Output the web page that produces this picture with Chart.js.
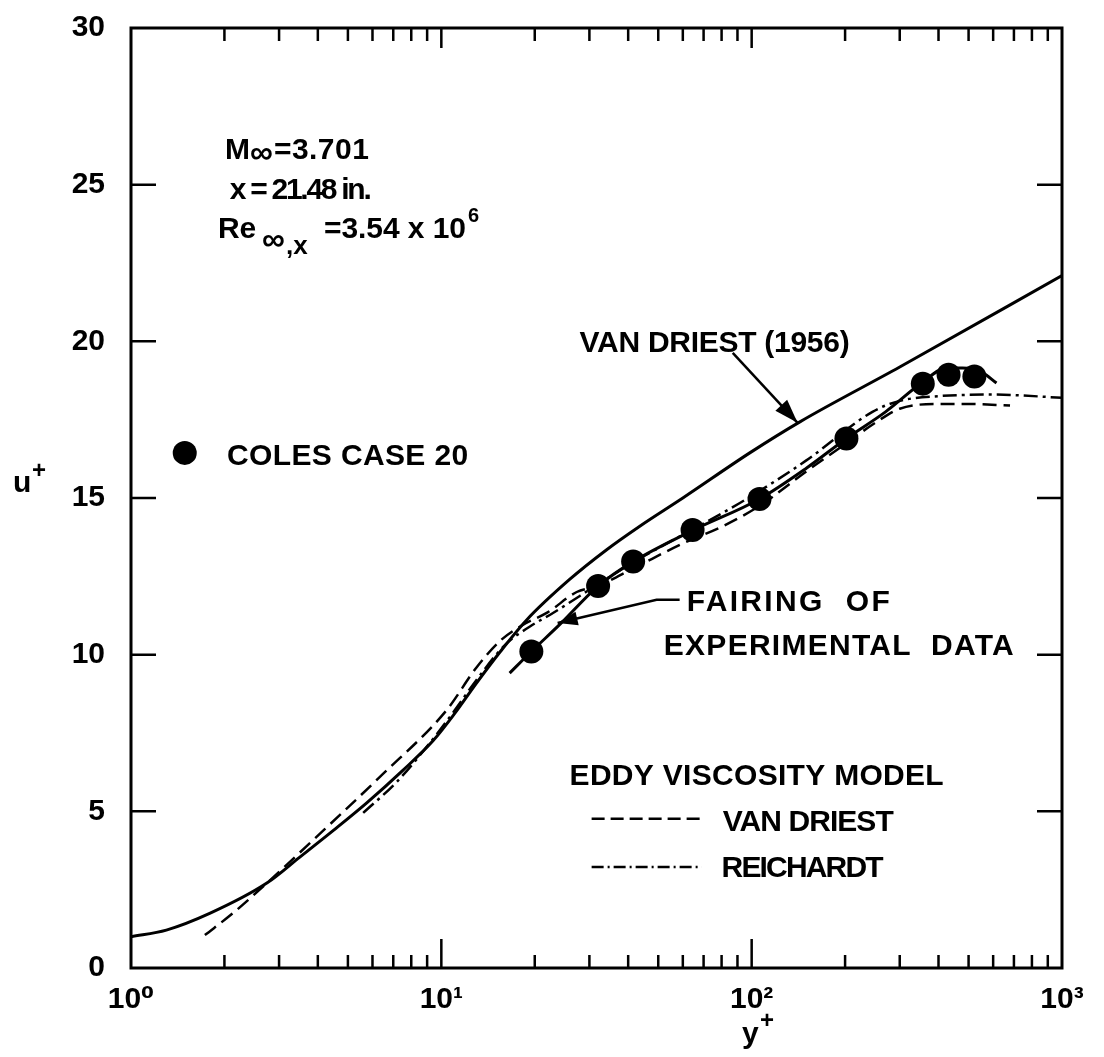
<!DOCTYPE html>
<html>
<head>
<meta charset="utf-8">
<script src="https://cdn.jsdelivr.net/npm/chart.js@4.4.1/dist/chart.umd.min.js"></script>
<style>
  html, body { margin: 0; padding: 0; background: #fff; }
  #wrap { width: 1104px; height: 1057px; }
</style>
</head>
<body>
<div id="wrap"><canvas id="chart" width="1104" height="1057"></canvas></div>
<script>
// u+ vs y+ : Coles case 20 with eddy viscosity model curves

// Coles case 20 data points
const colesY = [19.5, 32.0, 41.5, 64.5, 106, 202, 356, 431, 522];
const colesU = [10.1, 12.19, 12.97, 13.98, 14.97, 16.9, 18.65, 18.93, 18.88];

// fairing of experimental data
const fairY = [16.6, 19.5, 24, 32, 41.5, 65, 106, 150, 202, 270, 356, 425, 478, 554, 615];
const fairU = [9.41, 10.1, 10.95, 12.19, 12.97, 13.98, 14.97, 15.95, 16.9, 17.75, 18.7, 19.15, 19.15, 19.0, 18.67];

// Van Driest (1956)
const vd56Y = [1, 1.3, 1.8, 2.74, 3.5, 4.5, 5.75, 7.5, 9.4, 11, 13, 15.5, 18.8, 25.9, 34.1, 43.6, 60, 98.6, 143, 300, 1000];
const vd56U = [1.0, 1.21, 1.75, 2.71, 3.54, 4.4, 5.27, 6.3, 7.25, 8.1, 9.1, 10.1, 11.1, 12.4, 13.35, 14.1, 15.0, 16.44, 17.43, 19.18, 22.1];

// eddy viscosity model, Van Driest (dashed)
const vdY = [1.73, 2.13, 2.74, 3.86, 6.34, 10.4, 13, 15.5, 18.3, 22, 27.3, 32, 41.5, 60, 80.7, 106, 150, 202, 250, 300, 400, 500, 680];
const vdU = [1.05, 1.75, 2.71, 4.08, 6.1, 8.23, 9.6, 10.45, 10.95, 11.35, 12.0, 12.2, 12.75, 13.55, 14.1, 14.75, 15.85, 16.75, 17.4, 17.85, 18.0, 18.0, 17.95];

// eddy viscosity model, Reichardt (dash-dot)
const reY = [5.6, 7.2, 9.18, 11, 13, 16, 19.3, 22.9, 32, 41.5, 50, 91.6, 150, 245, 300, 400, 600, 1000];
const reU = [4.95, 5.95, 7.18, 8.2, 9.2, 10.3, 10.9, 11.33, 12.25, 12.95, 13.4, 14.84, 16.2, 17.75, 18.1, 18.25, 18.3, 18.2];

// axis ticks
const xTicks = [1, 10, 100, 1000];
const xTickLabels = ['10\u2070', '10\u00b9', '10\u00b2', '10\u00b3'];
const yTicks = [0, 5, 10, 15, 20, 25, 30];

const FONT = '"Liberation Sans", Arial, "DejaVu Sans", sans-serif';

function pts(xs, ys) {
    return xs.map((x, i) => ({ x: x, y: ys[i] }));
}

function txt(ctx, str, x, y, size, width) {
    ctx.font = 'bold ' + size + 'px ' + FONT;
    ctx.letterSpacing = '0px';
    if (width) {
        const w = ctx.measureText(str).width;
        ctx.letterSpacing = ((width - w) / Math.max(str.length - 1, 1)).toFixed(2) + 'px';
    }
    ctx.fillText(str, x, y);
    const out = ctx.measureText(str).width;
    ctx.letterSpacing = '0px';
    return out;
}

function arrow(ctx, x1, y1, x2, y2, len, half) {
    const ang = Math.atan2(y2 - y1, x2 - x1);
    ctx.beginPath();
    ctx.moveTo(x2, y2);
    ctx.lineTo(x2 - len * Math.cos(ang) + half * Math.sin(ang), y2 - len * Math.sin(ang) - half * Math.cos(ang));
    ctx.lineTo(x2 - len * Math.cos(ang) - half * Math.sin(ang), y2 - len * Math.sin(ang) + half * Math.cos(ang));
    ctx.closePath();
    ctx.fill();
}

const paperPlugin = {
    id: 'paper',
    afterDraw(chart) {
        const ctx = chart.ctx;
        const a = chart.chartArea;
        const X = v => chart.scales.x.getPixelForValue(v);
        const Y = v => chart.scales.y.getPixelForValue(v);
        ctx.save();
        ctx.strokeStyle = '#000';
        ctx.fillStyle = '#000';
        ctx.textBaseline = 'alphabetic';
        ctx.textAlign = 'left';

        // frame
        ctx.lineWidth = 3;
        ctx.strokeRect(a.left, a.top, a.right - a.left, a.bottom - a.top);

        // inward ticks
        ctx.lineWidth = 2.5;
        ctx.beginPath();
        [1, 10, 100].forEach(d => {
            for (let m = 2; m <= 10; m++) {
                const v = d * m;
                if (v >= 1000) continue;
                const p = X(v);
                const major = m === 10;
                ctx.moveTo(p, a.bottom); ctx.lineTo(p, a.bottom - (major ? 29 : 13));
                ctx.moveTo(p, a.top); ctx.lineTo(p, a.top + (major ? 20 : 13));
            }
        });
        yTicks.forEach(v => {
            if (v === 0 || v === 30) return;
            const p = Y(v);
            ctx.moveTo(a.left, p); ctx.lineTo(a.left + 25, p);
            ctx.moveTo(a.right, p); ctx.lineTo(a.right - 25, p);
        });
        ctx.stroke();

        // axis titles
        txt(ctx, 'u', 13, 492, 30);
        txt(ctx, '+', 32, 478, 24);
        txt(ctx, 'y', 742, 1043, 30);
        txt(ctx, '+', 760, 1028, 24);

        // flow conditions
        let x0 = X(2.01), b = Y(25.82);
        x0 += txt(ctx, 'M', x0, b, 30);
        x0 += txt(ctx, '\u221e', x0, b + 4, 32);
        txt(ctx, '=3.701', x0 + 1, b, 30, 95);
        txt(ctx, 'x = 21.48 in.', X(2.08), Y(24.54), 30, 142);
        x0 = X(1.906); b = Y(23.3);
        txt(ctx, 'Re', x0, b, 30);
        txt(ctx, '\u221e', x0 + 44, b + 12, 32);
        txt(ctx, ',x', x0 + 68, b + 16, 26);
        txt(ctx, '=3.54 x 10', x0 + 106, b, 30, 142);
        txt(ctx, '6', x0 + 250, b - 16, 20);

        // legend for data
        ctx.beginPath();
        ctx.arc(X(1.49), Y(16.44), 12, 0, Math.PI * 2);
        ctx.fill();
        txt(ctx, 'COLES CASE 20', X(2.04), Y(16.05), 30, 241);

        // Van Driest (1956) label + arrow
        txt(ctx, 'VAN DRIEST (1956)', X(27.9), Y(19.66), 30, 270);
        ctx.lineWidth = 2.5;
        ctx.beginPath();
        ctx.moveTo(X(86.9), Y(19.63));
        ctx.lineTo(X(140.6), Y(17.4));
        ctx.stroke();
        arrow(ctx, X(86.9), Y(19.63), X(140.6), Y(17.4), 24, 8);

        // fairing label + leader
        txt(ctx, 'FAIRING  OF', X(61.8), Y(11.39), 30, 203);
        txt(ctx, 'EXPERIMENTAL  DATA', X(52.1), Y(9.99), 30, 350);
        ctx.beginPath();
        ctx.moveTo(X(58.6), Y(11.75));
        ctx.lineTo(X(49.4), Y(11.75));
        ctx.lineTo(X(23.7), Y(11.01));
        ctx.stroke();
        arrow(ctx, X(49.4), Y(11.75), X(23.7), Y(11.01), 20, 7);

        // eddy viscosity model legend
        txt(ctx, 'EDDY VISCOSITY MODEL', X(25.9), Y(5.84), 30, 374);
        ctx.lineWidth = 2.5;
        ctx.setLineDash([13, 6]);
        ctx.beginPath();
        ctx.moveTo(X(30.5), Y(4.76)); ctx.lineTo(X(69), Y(4.76));
        ctx.stroke();
        ctx.setLineDash([12, 4, 2, 4]);
        ctx.beginPath();
        ctx.moveTo(X(30.5), Y(3.22)); ctx.lineTo(X(69), Y(3.22));
        ctx.stroke();
        ctx.setLineDash([]);
        txt(ctx, 'VAN DRIEST', X(80.7), Y(4.37), 30, 171);
        txt(ctx, 'REICHARDT', X(80.0), Y(2.9), 30, 162);

        ctx.restore();
    }
};

const ctx = document.getElementById('chart').getContext('2d');
new Chart(ctx, {
    type: 'scatter',
    data: {
        datasets: [
            {
                label: 'Coles case 20',
                data: pts(colesY, colesU),
                showLine: false,
                pointRadius: 12,
                pointBorderWidth: 0,
                backgroundColor: '#000',
                borderColor: '#000'
            },
            {
                label: 'Fairing of experimental data',
                data: pts(fairY, fairU),
                showLine: true,
                pointRadius: 0,
                borderColor: '#000',
                borderWidth: 3,
                cubicInterpolationMode: 'monotone'
            },
            {
                label: 'Van Driest (1956)',
                data: pts(vd56Y, vd56U),
                showLine: true,
                pointRadius: 0,
                borderColor: '#000',
                borderWidth: 3,
                cubicInterpolationMode: 'monotone'
            },
            {
                label: 'Van Driest',
                data: pts(vdY, vdU),
                showLine: true,
                pointRadius: 0,
                borderColor: '#000',
                borderWidth: 2.5,
                borderDash: [14, 7],
                cubicInterpolationMode: 'monotone'
            },
            {
                label: 'Reichardt',
                data: pts(reY, reU),
                showLine: true,
                pointRadius: 0,
                borderColor: '#000',
                borderWidth: 2.5,
                borderDash: [14, 5, 3, 5],
                cubicInterpolationMode: 'monotone'
            }
        ]
    },
    options: {
        responsive: false,
        animation: false,
        layout: { autoPadding: false, padding: { top: 28, right: 42, left: 0, bottom: 0 } },
        plugins: {
            legend: { display: false },
            tooltip: { enabled: false }
        },
        scales: {
            x: {
                type: 'logarithmic',
                min: 1,
                max: 1000,
                afterBuildTicks: s => { s.ticks = xTicks.map(v => ({ value: v })); },
                afterFit: s => { s.height = 89; s.paddingLeft = 0; s.paddingRight = 0; },
                grid: { display: false, drawTicks: false },
                border: { display: false },
                ticks: {
                    callback: v => xTickLabels[xTicks.indexOf(v)],
                    font: { size: 30, family: FONT, weight: 'bold' },
                    color: '#000',
                    padding: 14,
                    maxRotation: 0,
                    autoSkip: false
                }
            },
            y: {
                min: 0,
                max: 30,
                afterBuildTicks: s => { s.ticks = yTicks.map(v => ({ value: v })); },
                afterFit: s => { s.width = 131; s.paddingTop = 0; s.paddingBottom = 0; },
                grid: { display: false, drawTicks: false },
                border: { display: false },
                ticks: {
                    callback: v => String(v),
                    font: { size: 30, family: FONT, weight: 'bold' },
                    color: '#000',
                    padding: 26
                }
            }
        }
    },
    plugins: [paperPlugin]
});
</script>
</body>
</html>
